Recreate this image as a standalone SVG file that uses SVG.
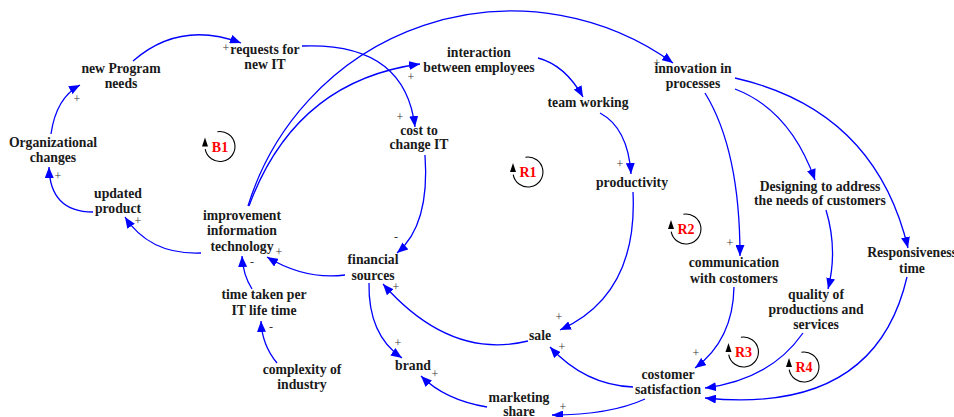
<svg xmlns="http://www.w3.org/2000/svg" width="954" height="417" viewBox="0 0 954 417">
<defs>
<marker id="ah" markerUnits="userSpaceOnUse" markerWidth="12" markerHeight="9" refX="11" refY="4.5" orient="auto">
<path d="M0,0 L11,4.5 L0,9 z" fill="#0000ff"/>
</marker>
<style>
.n{font-family:"Liberation Serif","Times New Roman",serif;font-weight:bold;font-size:13.7px;fill:#1a1a1a;text-anchor:middle}
.c path{fill:none;stroke:#0000ff;stroke-width:1.3;marker-end:url(#ah)}
.s{font-family:"Liberation Serif","Times New Roman",serif;font-size:12px;fill:#333;text-anchor:middle}
.lp path.a{fill:none;stroke:#000;stroke-width:1.1}
.lp text{font-family:"Liberation Serif","Times New Roman",serif;font-weight:bold;font-size:14px;fill:#ff0000;text-anchor:middle}
</style>
</defs>
<rect width="954" height="417" fill="#fff"/>

<g id="connectors" class="c">
<path d="M51,134 Q56,98 80,85"/>
<path d="M133,61 Q180,20 241,43"/>
<path d="M93,212 Q50,212 49,167"/>
<path d="M201,253 Q150,255 125,217"/>
<path d="M252,289 Q243,275 242,256"/>
<path d="M277,363 Q262,345 261,321"/>
<path d="M345,275 Q305,280 267,257"/>
<path d="M425,155 Q430,225 397,253"/>
<path d="M302,46 Q405,42 415,127"/>
<path d="M249,206 Q295,81 420,64"/>
<path d="M248,206 A276,276 0 0 1 673,63"/>
<path d="M538,58 Q565,65 583,97"/>
<path d="M600,113 Q628,128 631,174"/>
<path d="M633,192 Q638,295 560,330"/>
<path d="M528,341 Q450,360 383,284"/>
<path d="M633,387 Q585,385 550,347"/>
<path d="M645,399 Q610,415 552,415"/>
<path d="M487,407 Q445,400 421,376"/>
<path d="M369,283 Q368,335 402,358"/>
<path d="M705,93 Q740,150 740,256"/>
<path d="M735,89 Q790,110 815,180"/>
<path d="M735,78 Q875,110 908,248"/>
<path d="M826,210 Q838,250 828,289"/>
<path d="M734,287 Q733,340 695,368"/>
<path d="M803,333 Q770,380 705,388"/>
<path d="M907,277 Q875,415 705,398"/>
</g>

<g id="polarities">
<text class="s" x="77" y="103">+</text>
<text class="s" x="226" y="52">+</text>
<text class="s" x="58" y="180">+</text>
<text class="s" x="138" y="225">+</text>
<text class="s" x="252" y="266">-</text>
<text class="s" x="271" y="331">-</text>
<text class="s" x="279" y="256">+</text>
<text class="s" x="396" y="241">-</text>
<text class="s" x="400" y="121">+</text>
<text class="s" x="411" y="81">+</text>
<text class="s" x="657" y="67">+</text>
<text class="s" x="620" y="168">+</text>
<text class="s" x="559" y="321">+</text>
<text class="s" x="396" y="291">+</text>
<text class="s" x="562" y="351">+</text>
<text class="s" x="563" y="411">+</text>
<text class="s" x="435" y="378">+</text>
<text class="s" x="398" y="347">+</text>
<text class="s" x="730" y="247">+</text>
<text class="s" x="696" y="357">+</text>
</g>

<g id="new-program-needs"><text class="n" x="121" y="73">new Program</text><text class="n" x="121" y="88">needs</text></g>
<g id="requests-for-new-it"><text class="n" x="265" y="54">requests for</text><text class="n" x="265" y="69">new IT</text></g>
<g id="organizational-changes"><text class="n" x="53" y="147">Organizational</text><text class="n" x="53" y="162">changes</text></g>
<g id="updated-product"><text class="n" x="118" y="198">updated</text><text class="n" x="118" y="213">product</text></g>
<g id="improvement-it"><text class="n" x="242" y="220">improvement</text><text class="n" x="242" y="235">information</text><text class="n" x="242" y="251">technology</text></g>
<g id="time-taken"><text class="n" x="264" y="299">time taken per</text><text class="n" x="264" y="315">IT life time</text></g>
<g id="complexity"><text class="n" x="302" y="374">complexity of</text><text class="n" x="302" y="389">industry</text></g>
<g id="financial-sources"><text class="n" x="373" y="264">financial</text><text class="n" x="373" y="280">sources</text></g>
<g id="brand"><text class="n" x="413" y="370">brand</text></g>
<g id="marketing-share"><text class="n" x="519" y="402">marketing</text><text class="n" x="519" y="416">share</text></g>
<g id="sale"><text class="n" x="540" y="340">sale</text></g>
<g id="costomer-satisfaction"><text class="n" x="668" y="379">costomer</text><text class="n" x="668" y="394">satisfaction</text></g>
<g id="cost-to-change-it"><text class="n" x="419" y="135">cost to</text><text class="n" x="419" y="149">change IT</text></g>
<g id="interaction"><text class="n" x="479" y="57">interaction</text><text class="n" x="479" y="72">between employees</text></g>
<g id="team-working"><text class="n" x="588" y="107">team working</text></g>
<g id="productivity"><text class="n" x="632" y="187">productivity</text></g>
<g id="innovation"><text class="n" x="693" y="73">innovation in</text><text class="n" x="693" y="88">processes</text></g>
<g id="designing"><text class="n" x="820" y="191">Designing to address</text><text class="n" x="820" y="205">the needs of customers</text></g>
<g id="communication"><text class="n" x="734" y="267">communication</text><text class="n" x="734" y="283">with costomers</text></g>
<g id="quality"><text class="n" x="816" y="299">quality of</text><text class="n" x="816" y="314">productions and</text><text class="n" x="816" y="329">services</text></g>
<g id="responsiveness"><text class="n" x="912" y="257">Responsiveness</text><text class="n" x="912" y="273">time</text></g>

<g id="loop-B1" class="lp" transform="translate(220,146.5)"><path class="a" d="M-2.6,-14.8 A15,15 0 1 1 -14.8,2.6"/><path d="M-15,-9 L-18,0 L-12,0 z" fill="#000"/><text x="0" y="5">B1</text></g>
<g id="loop-R1" class="lp" transform="translate(528,172)"><path class="a" d="M-2.6,-14.8 A15,15 0 1 1 -14.8,2.6"/><path d="M-15,-9 L-18,0 L-12,0 z" fill="#000"/><text x="0" y="5">R1</text></g>
<g id="loop-R2" class="lp" transform="translate(686,229)"><path class="a" d="M-2.6,-14.8 A15,15 0 1 1 -14.8,2.6"/><path d="M-15,-9 L-18,0 L-12,0 z" fill="#000"/><text x="0" y="5">R2</text></g>
<g id="loop-R3" class="lp" transform="translate(743.5,352)"><path class="a" d="M-2.6,-14.8 A15,15 0 1 1 -14.8,2.6"/><path d="M-15,-9 L-18,0 L-12,0 z" fill="#000"/><text x="0" y="5">R3</text></g>
<g id="loop-R4" class="lp" transform="translate(804,367)"><path class="a" d="M-2.6,-14.8 A15,15 0 1 1 -14.8,2.6"/><path d="M-15,-9 L-18,0 L-12,0 z" fill="#000"/><text x="0" y="5">R4</text></g>
</svg>
